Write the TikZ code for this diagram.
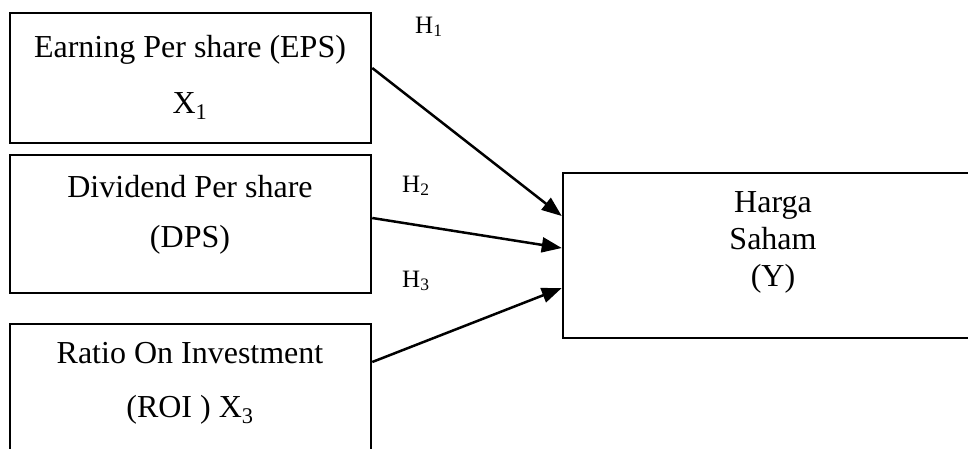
\documentclass[tikz,border=0pt]{standalone}
\usepackage{fontspec}
\setmainfont{Liberation Serif}
\usetikzlibrary{arrows.meta,calc}
\begin{document}
\begin{tikzpicture}[x=1pt,y=-1pt,
  box/.style={draw, line width=2.5pt, rectangle, inner sep=0pt},
  lbl/.style={font=\fontsize{32}{38}\selectfont, anchor=base, inner sep=0pt},
  hyp/.style={font=\fontsize{25}{30}\selectfont, anchor=base west, inner sep=0pt},
  arr/.style={line width=2.5pt, -{Triangle[length=20pt,width=15pt]}}]
\useasboundingbox (0,0) rectangle (968,448);
\clip (0,0) rectangle (968,448);
% boxes
\node[box, minimum width=361pt, minimum height=130pt] (b1) at (190.5,78) {};
\node[box, minimum width=361pt, minimum height=138pt] (b2) at (190.5,224) {};
\node[box, minimum width=361pt, minimum height=146pt] (b3) at (190.5,397) {};
\node[box, minimum width=427pt, minimum height=165pt] (y) at (776.5,255.5) {};
% box texts
\node[lbl] (t1a) at (190,57) {Earning Per share (EPS)};
\node[lbl] (t1b) at (190,113) {X\textsubscript{1}};
\node[lbl] (t2a) at (190,197) {Dividend Per share};
\node[lbl] (t2b) at (190,247) {(DPS)};
\node[lbl] (t3a) at (190,363) {Ratio On Investment};
\node[lbl] (t3b) at (190,417) {(ROI ) X\textsubscript{3}};
\node[lbl] (ya) at (773,212) {Harga};
\node[lbl] (yb) at (773,249) {Saham};
\node[lbl] (yc) at (773,286) {(Y)};
% hypothesis labels
\node[hyp] (h1) at (415,33) {H\textsubscript{1}};
\node[hyp] (h2) at (402,192) {H\textsubscript{2}};
\node[hyp] (h3) at (402,287) {H\textsubscript{3}};
% arrows
\draw[arr] ($(b1.east)+(0,-10)$) -- ($(y.west)+(0,-39.5)$);
\draw[arr] ($(b2.east)+(0,-6)$) -- ($(y.west)+(0,-7.5)$);
\draw[arr] ($(b3.east)+(0,-35)$) -- ($(y.west)+(0,32.5)$);
\end{tikzpicture}
\end{document}
